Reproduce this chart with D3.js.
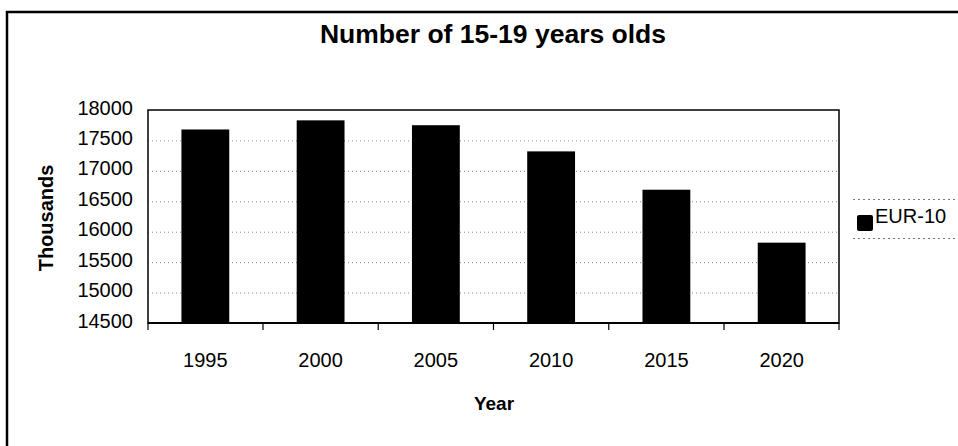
<!DOCTYPE html>
<html><head><meta charset="utf-8">
<script src="https://cdn.jsdelivr.net/npm/d3@7"></script>
<style>body{margin:0;background:#fff;}svg{display:block;}</style>
</head><body>
<svg id="c" width="958" height="446"></svg>
<script>
const years = ["1995","2000","2005","2010","2015","2020"];
const values = [17680, 17830, 17750, 17320, 16690, 15820];
const yTicks = [14500,15000,15500,16000,16500,17000,17500,18000];
const seriesName = "EUR-10";
const titleText = "Number of 15-19 years olds";
const yTitle = "Thousands";
const xTitle = "Year";

const svg = d3.select("#c");
const font = "'Liberation Sans', Arial, sans-serif";
const L = 148, R = 839, T = 110, B = 323;

// outer frame
svg.append("rect").attr("x",7).attr("y",12).attr("width",1000).attr("height",500)
  .attr("fill","none").attr("stroke","#000").attr("stroke-width",2.5);

svg.append("text").attr("x",493).attr("y",43).attr("text-anchor","middle")
  .attr("font-family",font).attr("font-weight","bold").attr("font-size",26.5).text(titleText);

const x = d3.scaleBand().domain(years).range([L,R]).paddingInner(0.585).paddingOuter(0.29);
const y = d3.scaleLinear().domain([14500,18000]).range([B,T]);

// gridlines
svg.append("g").selectAll("line").data(yTicks.filter(t=>t>14500 && t<18000)).join("line")
  .attr("x1",L).attr("x2",R).attr("y1",d=>y(d)+0.5).attr("y2",d=>y(d)+0.5)
  .attr("stroke","#888").attr("stroke-width",1).attr("stroke-dasharray","1,3");

// bars
svg.append("g").selectAll("rect").data(values).join("rect")
  .attr("x",(d,i)=>x(years[i])).attr("width",x.bandwidth())
  .attr("y",d=>y(d)).attr("height",d=>B-y(d)).attr("fill","#000");

// plot border
svg.append("rect").attr("x",L).attr("y",T).attr("width",R-L).attr("height",B-T)
  .attr("fill","none").attr("stroke","#000").attr("stroke-width",1.5);

// y axis labels
const ya = d3.axisLeft(y).tickValues(yTicks).tickFormat(d3.format("d")).tickSize(0).tickPadding(15);
const gy = svg.append("g").attr("transform",`translate(${L},0)`).call(ya);
gy.select(".domain").remove();
gy.selectAll("text").attr("font-family",font).attr("font-size",20).attr("fill","#000").attr("dy","0.2em");

// x axis with ticks at band boundaries
const gx = svg.append("g").attr("transform",`translate(0,${B})`);
gx.append("line").attr("x1",L).attr("x2",R).attr("stroke","#000").attr("stroke-width",2);
const bounds = years.map(d=>x(d)-x.step()*x.paddingInner()/2).concat([R]);
bounds[0] = L;
gx.selectAll("line.t").data(bounds).join("line").attr("class","t")
  .attr("x1",d=>d).attr("x2",d=>d).attr("y1",0).attr("y2",7).attr("stroke","#000").attr("stroke-width",1.2);
gx.selectAll("text").data(years).join("text")
  .attr("x",d=>x(d)+x.bandwidth()/2).attr("y",44).attr("text-anchor","middle")
  .attr("font-family",font).attr("font-size",20).text(d=>d);

svg.append("text").attr("x",494).attr("y",410).attr("text-anchor","middle")
  .attr("font-family",font).attr("font-weight","bold").attr("font-size",19).text(xTitle);

svg.append("text").attr("transform","translate(53,218) rotate(-90)").attr("text-anchor","middle")
  .attr("font-family",font).attr("font-weight","bold").attr("font-size",20).text(yTitle);

// legend
const lg = svg.append("g");
lg.append("line").attr("x1",853).attr("x2",958).attr("y1",199.5).attr("y2",199.5).attr("stroke","#777").attr("stroke-dasharray","2,3");
lg.append("line").attr("x1",853).attr("x2",958).attr("y1",238.5).attr("y2",238.5).attr("stroke","#777").attr("stroke-dasharray","2,3");
lg.append("rect").attr("x",857).attr("y",215).attr("width",16).attr("height",16).attr("rx",2).attr("fill","#000");
lg.append("text").attr("x",875).attr("y",223).attr("font-family",font).attr("font-size",20).text(seriesName);
</script>
</body></html>
